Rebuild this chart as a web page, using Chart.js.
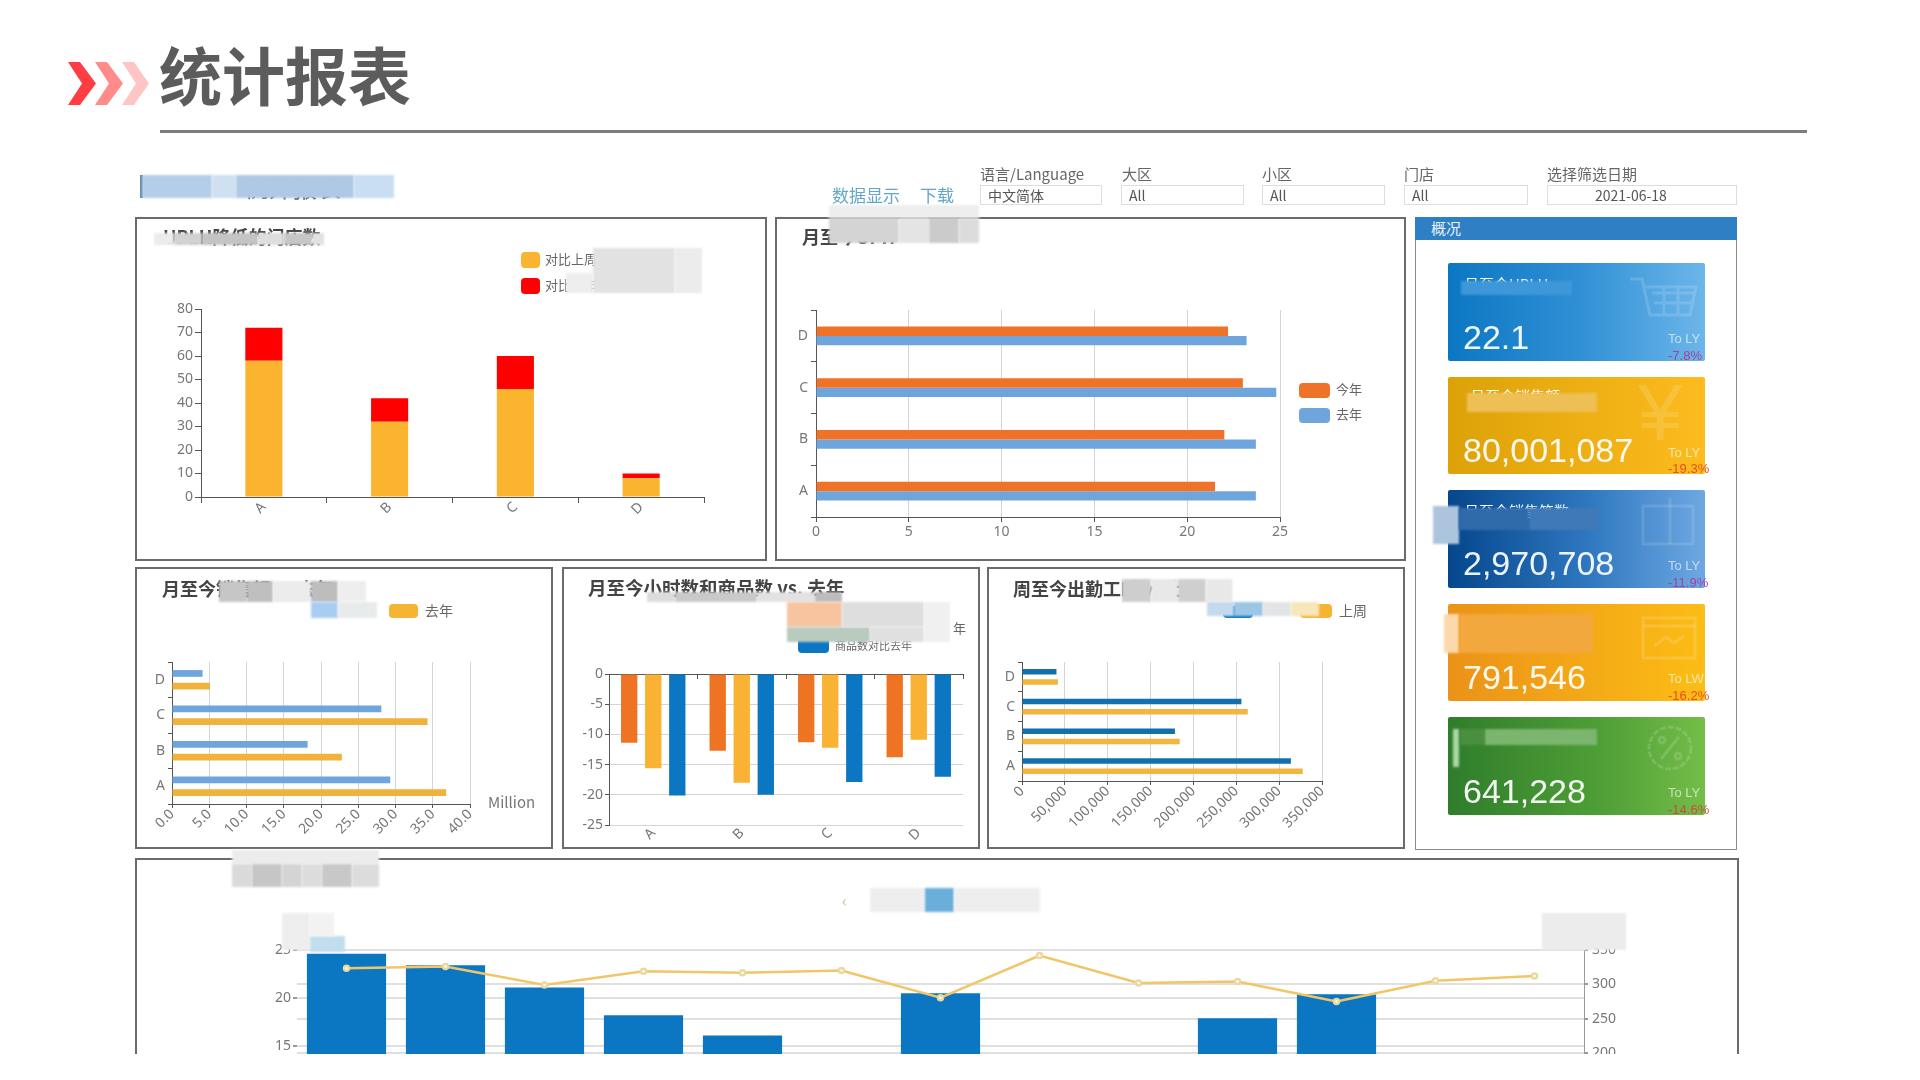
<!DOCTYPE html>
<html lang="zh"><head><meta charset="utf-8"><title>统计报表</title>
<script src="https://cdn.jsdelivr.net/npm/chart.js@4/dist/chart.umd.min.js"></script>
<style>
html,body{margin:0;padding:0;background:#fff;width:1920px;height:1080px;overflow:hidden}
body{font-family:"Noto Sans CJK SC","Noto Sans",sans-serif;color:#666}
#page{position:absolute;left:0;top:0;width:1920px;height:1080px;filter:blur(.55px)}
.abs{position:absolute;white-space:nowrap}
.panel{position:absolute;border:2px solid #6b6b6b;box-sizing:border-box;background:#fff}
.ptitle{position:absolute;font-weight:700;font-size:18px;color:#444;white-space:nowrap;line-height:20px}
canvas{position:absolute}
.sel{position:absolute;height:20px;border:1px solid #ddd;box-sizing:border-box;font-size:14px;line-height:18px;padding-left:7px;color:#555}
.card{position:absolute;left:1448px;width:257px;border-radius:2px;overflow:visible}
.num{position:absolute;left:15px;font:34px/36px "Liberation Sans",Arial,sans-serif;color:#fff;opacity:.93}
.toly{position:absolute;left:220px;font:13px/16px "Liberation Sans",Arial,sans-serif;color:rgba(255,255,255,.62)}
.pct{position:absolute;left:220px;font:13px/16px "Liberation Sans",Arial,sans-serif}
.patch{position:absolute;filter:blur(.8px)}
</style></head><body><div id="page">
<svg class="abs" style="left:0;top:0" width="200" height="130">
<polygon points="68,62 80,62 96,83.5 80,105 68,105 82,83.5" fill="#ff3d42"/>
<polygon points="95,62 107,62 123,83.5 107,105 95,105 109,83.5" fill="#ff8b8b"/>
<polygon points="122,62 134,62 149,83.5 134,105 122,105 136,83.5" fill="#ffc5c5"/>
</svg>
<div class="abs" style="left:159px;top:28px;font-size:63px;line-height:90px;font-weight:700;color:#5c5c5c">统计报表</div>
<div class="abs" style="left:160px;top:130px;width:1647px;height:3px;background:#7d7d7d"></div>

<div class="abs" style="left:245px;top:172px;font-size:24px;line-height:30px;color:#555">例外报表</div>
<div class="abs" style="left:140px;top:175px;width:3px;height:23px;background:#5f86a8"></div>
<div class="abs" style="left:832px;top:184px;font-size:17px;line-height:22px;color:#62a6c9">数据显示</div>
<div class="abs" style="left:920px;top:184px;font-size:17px;line-height:22px;color:#62a6c9">下载</div>

<div class="abs" style="left:980px;top:164px;font-size:15px;line-height:20px;color:#666">语言/Language</div>
<div class="abs" style="left:1122px;top:164px;font-size:15px;line-height:20px;color:#666">大区</div>
<div class="abs" style="left:1262px;top:164px;font-size:15px;line-height:20px;color:#666">小区</div>
<div class="abs" style="left:1404px;top:164px;font-size:15px;line-height:20px;color:#666">门店</div>
<div class="abs" style="left:1547px;top:164px;font-size:15px;line-height:20px;color:#666">选择筛选日期</div>
<div class="sel" style="left:980px;top:185px;width:122px">中文简体</div>
<div class="sel" style="left:1121px;top:185px;width:123px">All</div>
<div class="sel" style="left:1262px;top:185px;width:123px">All</div>
<div class="sel" style="left:1404px;top:185px;width:124px">All</div>
<div class="sel" style="left:1547px;top:185px;width:190px;padding-left:47px">2021-06-18</div>

<div class="panel" id="p1" style="left:135px;top:217px;width:632px;height:344px"></div>
<div class="panel" id="p2" style="left:775px;top:217px;width:631px;height:344px"></div>
<div class="panel" id="p3" style="left:135px;top:567px;width:418px;height:282px"></div>
<div class="panel" id="p4" style="left:562px;top:567px;width:418px;height:282px"></div>
<div class="panel" id="p5" style="left:987px;top:567px;width:418px;height:282px"></div>
<div class="panel" id="p6" style="left:135px;top:858px;width:1604px;height:196px;border-bottom:none;overflow:hidden"></div>

<div class="ptitle" style="left:163px;top:226px">UPLH降低的门店数</div>
<div class="ptitle" style="left:802px;top:226px">月至今UPH</div>
<div class="ptitle" style="left:162px;top:578px">月至今销售额 vs 去年</div>
<div class="ptitle" style="left:588px;top:577px;font-size:18.5px">月至今小时数和商品数 vs. 去年</div>
<div class="ptitle" style="left:1013px;top:578px">周至今出勤工时 vs 上周</div>

<div class="abs" style="left:1415px;top:217px;width:322px;height:633px;border:1px solid #8a8a8a;border-top:none;box-sizing:border-box"></div>
<div class="abs" style="left:1415px;top:217px;width:322px;height:23px;background:#2f7fc4;color:#eaf3fb;font-size:15px;line-height:21px;text-indent:16px">概况</div>

<div class="card" style="top:263px;height:98px;background:linear-gradient(90deg,#0b77c2,#2f8fd4 50%,#6cb6ea)">
<div class="abs" style="left:16px;top:10px;color:#fff;font-size:15px">月至今UPLH</div>
<svg class="abs" style="left:178px;top:10px" width="74" height="50" fill="none" stroke="#fff" stroke-opacity=".15" stroke-width="3"><path d="M4 6h12l8 36h40l6-28H18M26 20h42M28 30h38M38 12v30M52 12v30"/></svg>
<div class="num" style="top:56px">22.1</div><div class="toly" style="top:68px">To LY</div><div class="pct" style="top:85px;color:#a6419a">-7.8%</div></div>

<div class="card" style="top:377px;height:97px;background:linear-gradient(90deg,#dca208,#fdbb1e)">
<div class="abs" style="left:22px;top:8px;color:#fff;font-size:15px">月至今销售额</div>
<div class="abs" style="left:190px;top:-14px;font:80px/100px 'Liberation Sans';color:rgba(255,255,255,.14)">¥</div>
<div class="num" style="top:55px">80,001,087</div><div class="toly" style="top:68px">To LY</div><div class="pct" style="top:84px;color:#e4511e">-19.3%</div></div>

<div class="card" style="top:490px;height:98px;background:linear-gradient(90deg,#05468c,#2f78c0 55%,#6ea8e2)">
<div class="abs" style="left:16px;top:10px;color:#fff;font-size:15px">月至今销售笔数</div>
<svg class="abs" style="left:192px;top:8px" width="58" height="50" fill="none" stroke="#fff" stroke-opacity=".12" stroke-width="3"><rect x="3" y="8" width="50" height="38"/><path d="M30 0v46"/></svg>
<div class="num" style="top:55px">2,970,708</div><div class="toly" style="top:68px">To LY</div><div class="pct" style="top:85px;color:#a63fa8">-11.9%</div></div>

<div class="card" style="top:604px;height:97px;background:linear-gradient(90deg,#eb9218,#fcbd15)">
<svg class="abs" style="left:192px;top:10px" width="60" height="48" fill="none" stroke="#fff" stroke-opacity=".15" stroke-width="3"><rect x="3" y="4" width="52" height="40"/><path d="M3 12h52M14 32l12-9 8 6 10-7"/></svg>
<div class="num" style="top:55px">791,546</div><div class="toly" style="top:67px">To LW</div><div class="pct" style="top:84px;color:#e4501f">-16.2%</div></div>

<div class="card" style="top:717px;height:98px;background:linear-gradient(90deg,#2f7d2b,#4f9f37 60%,#74bd48)">
<svg class="abs" style="left:195px;top:6px" width="54" height="50" fill="none" stroke="#fff" stroke-opacity=".15" stroke-width="3"><circle cx="27" cy="25" r="21" stroke-dasharray="6 2"/><path d="M36 14L18 36"/><circle cx="19" cy="17" r="3"/><circle cx="35" cy="33" r="3"/></svg>
<div class="num" style="top:56px">641,228</div><div class="toly" style="top:68px">To LY</div><div class="pct" style="top:85px;color:#c4503a">-14.6%</div></div>

<div id="charts"></div>

<div class="abs" style="left:521px;top:252px;width:19px;height:16px;border-radius:4px;background:#fbb430"></div>
<div class="abs" style="left:545px;top:250px;font-size:13px;line-height:18px">对比上周</div>
<div class="abs" style="left:521px;top:278px;width:19px;height:16px;border-radius:4px;background:#f00"></div>
<div class="abs" style="left:545px;top:276px;font-size:13px;line-height:18px">对比去年</div>

<div class="abs" style="left:1299px;top:383px;width:31px;height:15px;border-radius:4px;background:#ee7328"></div>
<div class="abs" style="left:1336px;top:380px;font-size:13px;line-height:18px">今年</div>
<div class="abs" style="left:1299px;top:408px;width:31px;height:15px;border-radius:4px;background:#6fa5dd"></div>
<div class="abs" style="left:1336px;top:405px;font-size:13px;line-height:18px">去年</div>

<div class="abs" style="left:389px;top:604px;width:29px;height:14px;border-radius:4px;background:#f5b533"></div>
<div class="abs" style="left:425px;top:600px;font-size:14px;line-height:20px">去年</div>
<div class="abs" style="left:488px;top:791px;font-size:15px;line-height:22px;color:#777">Million</div>

<div class="abs" style="left:798px;top:635px;width:31px;height:18px;border-radius:4px;background:#0b77c3"></div>
<div class="abs" style="left:835px;top:637px;font-size:11px;line-height:16px">商品数对比去年</div>
<div class="abs" style="left:953px;top:619px;font-size:13px;line-height:18px">年</div>

<div class="abs" style="left:1223px;top:606px;width:30px;height:12px;border-radius:4px;background:#0b77c3"></div>
<div class="abs" style="left:1300px;top:604px;width:32px;height:14px;border-radius:4px;background:#f5b533"></div>
<div class="abs" style="left:1339px;top:600px;font-size:14px;line-height:20px">上周</div>
<div class="abs" style="left:842px;top:888px;font-size:16px;line-height:24px;color:#c9c29a">‹</div>
<div id="patches"></div>
</div>
<script>
const categories=['A','B','C','D'];
const reversedCategories=['D','C','B','A'];
const lowerStoresA=[58,32,46,8];
const lowerStoresB=[14,10,14,2];
const uphThisYear=[22.2,23,22,21.5];
const uphLastYear=[23.2,24.8,23.7,23.7];
const salesThisYear=[4.1,28.1,18.2,29.3];
const salesLastYear=[5.1,34.3,22.8,36.8];
const salesTicks=[0,5,10,15,20,25,30,35,40];
const hoursVsLy=[-11.4,-12.7,-11.3,-13.8];
const itemsVsLyA=[-15.6,-18,-12.2,-10.9];
const itemsVsLyB=[-20.1,-20,-17.9,-17];
const attendThisWeek=[40200,256000,178400,313700];
const attendLastWeek=[41900,263400,184000,327500];
const trendCategories=['1','2','3','4','5','6','7','8','9','10','11','12','13'];
const trendBars=[24.6,23.4,21.1,18.2,16.1,13,20.5,12.5,12,17.9,20.4,13,12];
const trendLine=[323.5,326,299,319,317,320,280.5,342,302,304,275,305,312];

const FONT={family:'"Noto Sans","Noto Sans CJK SC",sans-serif',size:14};
const TICK='#777', AXIS='#555', GRID='#d4d4d4';
Chart.defaults.font.family=FONT.family;

function mount(box,plot,cfg,clip){
  const host=document.getElementById('charts');
  let parent=host;
  if(clip){
    parent=document.createElement('div');
    parent.style.cssText=`position:absolute;left:${clip.l}px;top:${clip.t}px;width:${clip.w}px;height:${clip.h}px;overflow:hidden`;
    host.appendChild(parent);
  }
  const c=document.createElement('canvas');
  const ox=clip?clip.l:0, oy=clip?clip.t:0;
  c.width=box.w;c.height=box.h;
  c.style.cssText=`left:${box.l-ox}px;top:${box.t-oy}px;width:${box.w}px;height:${box.h}px`;
  parent.appendChild(c);
  cfg.options=Object.assign({responsive:false,animation:false,devicePixelRatio:1},cfg.options);
  const o=cfg.options;
  o.layout={padding:{left:0,top:plot.t-box.t,right:plot.axisRight?0:(box.l+box.w)-plot.r,bottom:0}};
  o.plugins={legend:{display:false},tooltip:{enabled:false}};
  return new Chart(c,cfg);
}
const fitW=w=>({afterFit(s){s.width=w}});
const fitH=h=>({afterFit(s){s.height=h}});

// panel 1
(function(){
 const box={l:137,t:219,w:628,h:340},plot={l:201,r:704,t:309,b:497};
 mount(box,plot,{type:'bar',data:{labels:categories,datasets:[
  {label:'对比上周',data:lowerStoresA,backgroundColor:'#fbb430',barPercentage:.295,categoryPercentage:1},
  {label:'对比去年',data:lowerStoresB,backgroundColor:'#f00',barPercentage:.295,categoryPercentage:1}]},
 options:{scales:{
  x:Object.assign({stacked:true,border:{color:AXIS},grid:{drawOnChartArea:false,color:AXIS,tickLength:6},ticks:{color:TICK,font:FONT,minRotation:45,maxRotation:45,padding:-4}},fitH(box.t+box.h-plot.b)),
  y:Object.assign({stacked:true,min:0,max:80,border:{color:AXIS},grid:{drawOnChartArea:false,color:AXIS,tickLength:6},ticks:{stepSize:10,color:TICK,font:FONT,padding:2}},fitW(plot.l-box.l))}}});
})();
// panel 2
(function(){
 const box={l:777,t:219,w:627,h:340},plot={l:816,r:1280,t:310,b:517};
 mount(box,plot,{type:'bar',data:{labels:reversedCategories,datasets:[
  {label:'今年',data:uphThisYear,backgroundColor:'#ee7328',barPercentage:1,categoryPercentage:.36},
  {label:'去年',data:uphLastYear,backgroundColor:'#6fa5dd',barPercentage:1,categoryPercentage:.36}]},
 options:{indexAxis:'y',scales:{
  x:Object.assign({min:0,max:25,border:{color:AXIS},grid:{color:GRID,tickColor:AXIS,tickLength:5},ticks:{stepSize:5,color:TICK,font:FONT,maxRotation:0,padding:2}},fitH(box.t+box.h-plot.b)),
  y:Object.assign({border:{color:AXIS},grid:{drawOnChartArea:false,color:AXIS,tickLength:5},ticks:{color:TICK,font:FONT,padding:3}},fitW(plot.l-box.l))}}});
})();
// panel 3
(function(){
 const box={l:137,t:569,w:414,h:278},plot={l:172,r:470,t:662,b:804};
 mount(box,plot,{type:'bar',data:{labels:reversedCategories,datasets:[
  {label:'今年',data:salesThisYear,backgroundColor:'#6fa5dd',barPercentage:.53,categoryPercentage:.71},
  {label:'去年',data:salesLastYear,backgroundColor:'#f0b23c',barPercentage:.53,categoryPercentage:.71}]},
 options:{indexAxis:'y',scales:{
  x:Object.assign({min:salesTicks[0],max:salesTicks[salesTicks.length-1],border:{color:AXIS},grid:{color:GRID,tickColor:AXIS,tickLength:4},ticks:{stepSize:5,color:TICK,font:FONT,minRotation:45,maxRotation:45,padding:-2,callback:v=>v.toFixed(1)}},fitH(box.t+box.h-plot.b)),
  y:Object.assign({border:{color:AXIS},grid:{drawOnChartArea:false,color:AXIS,tickLength:4},ticks:{color:TICK,font:FONT,padding:3}},fitW(plot.l-box.l))}}});
})();
// panel 4
(function(){
 const box={l:564,t:569,w:414,h:278},plot={l:609,r:963,t:674,b:825};
 mount(box,plot,{type:'bar',data:{labels:categories,datasets:[
  {label:'小时数对比去年',data:hoursVsLy,backgroundColor:'#ee7322',barPercentage:.68,categoryPercentage:.815},
  {label:'商品数对比今年',data:itemsVsLyA,backgroundColor:'#f9b233',barPercentage:.68,categoryPercentage:.815},
  {label:'商品数对比去年',data:itemsVsLyB,backgroundColor:'#0b77c3',barPercentage:.68,categoryPercentage:.815}]},
 options:{scales:{
  x:Object.assign({border:{display:false},grid:{display:false},ticks:{color:TICK,font:FONT,minRotation:45,maxRotation:45,padding:-8}},fitH(box.t+box.h-plot.b)),
  x2:{type:'category',labels:categories,position:{y:0},border:{color:AXIS},grid:{drawOnChartArea:false,color:AXIS,tickLength:4},ticks:{display:false}},
  y:Object.assign({min:-25,max:0,border:{color:AXIS},grid:{color:GRID,tickColor:AXIS,tickLength:4},ticks:{stepSize:5,color:TICK,font:FONT,padding:2}},fitW(plot.l-box.l))}}});
})();
// panel 5
(function(){
 const box={l:989,t:569,w:414,h:278},plot={l:1022,r:1322,t:662,b:781};
 mount(box,plot,{type:'bar',data:{labels:reversedCategories,datasets:[
  {label:'本周',data:attendThisWeek,backgroundColor:'#1170ad',barPercentage:.52,categoryPercentage:.69},
  {label:'上周',data:attendLastWeek,backgroundColor:'#f2b640',barPercentage:.52,categoryPercentage:.69}]},
 options:{indexAxis:'y',scales:{
  x:Object.assign({min:0,max:350000,border:{color:AXIS},grid:{color:GRID,tickColor:AXIS,tickLength:4},ticks:{stepSize:50000,color:TICK,font:FONT,minRotation:45,maxRotation:45,padding:-2,callback:v=>v.toLocaleString('en-US')}},fitH(box.t+box.h-plot.b)),
  y:Object.assign({border:{color:AXIS},grid:{drawOnChartArea:false,color:AXIS,tickLength:4},ticks:{color:TICK,font:FONT,padding:3}},fitW(plot.l-box.l))}}});
})();
// bottom chart (cut off at the slide edge)
(function(){
 const clip={l:137,t:860,w:1600,h:194};
 const box={l:137,t:860,w:1600,h:400},plot={l:297,r:1584,t:950,b:1190,axisRight:true};
 mount(box,plot,{type:'bar',data:{labels:trendCategories,datasets:[
  {type:'line',label:'趋势',data:trendLine,yAxisID:'y2',borderColor:'#f2c568',borderWidth:2.5,pointRadius:2.5,pointBackgroundColor:'#fff',pointBorderColor:'#e9d9a0',tension:0,order:0},
  {type:'bar',label:'数值',data:trendBars,yAxisID:'y',backgroundColor:'#0b77c3',barPercentage:.8,categoryPercentage:1,order:1}]},
 options:{scales:{
  x:Object.assign({grid:{display:false},border:{color:AXIS},ticks:{color:TICK,font:FONT}},fitH(box.t+box.h-plot.b)),
  y:Object.assign({position:'left',min:0,max:25,border:{display:false},grid:{color:'#e0e0e0',lineWidth:2,tickColor:'#999',tickLength:4},ticks:{stepSize:5,color:TICK,font:FONT,padding:2}},fitW(plot.l-box.l)),
  y2:Object.assign({position:'right',min:0,max:350,border:{color:'#999'},grid:{color:'#e0e0e0',lineWidth:2,tickColor:'#999',tickLength:4},ticks:{stepSize:50,color:TICK,font:FONT,padding:4}},fitW(box.l+box.w-plot.r))}}},clip);
})();

const patchBlocks=[
 // page heading
 [142,175,70,23,'#b4cde8'],[212,175,24,23,'#cfe0f1'],[236,175,118,23,'#afc9e5'],[354,175,40,23,'#c9def2'],
 // panel 2 heading
 [829,205,150,13,'#eeeeee'],[829,218,70,25,'#d4d4d4'],[899,218,30,25,'#e4e4e4'],[929,218,30,25,'#cbcbcb'],[959,218,20,25,'#dcdcdc'],
 // panel 1
 [154,233,20,12,'#ececec'],[174,233,28,12,'#d2d2d2'],[202,233,56,12,'#c4c4c4'],[258,233,26,12,'#dedede'],[284,233,28,12,'#c6c6c6'],[312,233,12,12,'#e2e2e2'],
 [593,248,82,45,'#e2e2e2'],[675,248,27,45,'#ececec'],[566,273,27,20,'#eeeeee'],
 // panel 3
 [219,581,28,21,'#c6c6c6'],[247,581,26,21,'#bfbfbf'],[273,581,38,21,'#ececec'],[311,581,27,21,'#bdbdbd'],[338,581,28,21,'#eeeeee'],
 [311,602,27,16,'#a9cdf2'],[338,602,39,16,'#e8ebec'],
 // panel 4
 [647,592,28,10,'#dcdcdc'],[675,592,82,10,'#c9c9c9'],[757,592,58,10,'#e2e2e2'],[815,592,27,10,'#bcbcbc'],
 [787,602,55,25,'#f7c4a0'],[787,627,83,15,'#b9cabf'],[842,602,82,25,'#dedede'],[870,627,54,15,'#e0e0e0'],[924,602,26,40,'#f0f0f0'],
 // panel 5
 [1122,579,29,23,'#cecece'],[1151,579,27,23,'#e8e8e8'],[1178,579,28,23,'#cfcfcf'],[1206,579,27,23,'#e8e8e8'],
 [1233,579,140,23,'#fff'],
 [1207,602,27,14,'#c4d9ec'],[1234,602,29,14,'#9cc6e6'],[1263,602,28,14,'#e2e4e6'],[1291,602,28,14,'#f7e6b8'],
 // cards
 [1461,281,111,14,'#3d97d8'],[1467,393,130,19,'#edbf54'],
 [1433,506,26,38,'#adc4de'],[1459,508,70,22,'#2f6aab'],[1529,508,69,22,'#4079b8'],
 [1444,614,15,39,'#fbd9aa'],[1459,614,134,39,'#f2a83c'],
 [1453,729,6,38,'#a9d6a2'],[1460,729,25,16,'#4a8f40'],[1485,729,112,16,'#7cb56e'],
 // bottom panel
 [232,850,147,14,'#ececec'],[232,864,20,23,'#dadada'],[252,864,30,23,'#c6c6c6'],[282,864,20,23,'#d4d4d4'],[302,864,20,23,'#dcdcdc'],[322,864,30,23,'#c8c8c8'],[352,864,27,23,'#dcdcdc'],
 [870,888,55,24,'#eeeeee'],[925,888,29,24,'#6aaedb'],[954,888,86,24,'#eeeeee'],
 [282,913,28,37,'#eeeeee'],[310,936,35,16,'#c2deee'],[310,913,24,23,'#f2f2f2'],[1542,913,84,37,'#ececec']
];
const pHost=document.getElementById('patches');
patchBlocks.forEach(([x,y,w,h,col])=>{
 const d=document.createElement('div');d.className='patch';
 d.style.cssText=`left:${x}px;top:${y}px;width:${w}px;height:${h}px;background:${col}`;
 pHost.appendChild(d);
});
</script></body></html>
